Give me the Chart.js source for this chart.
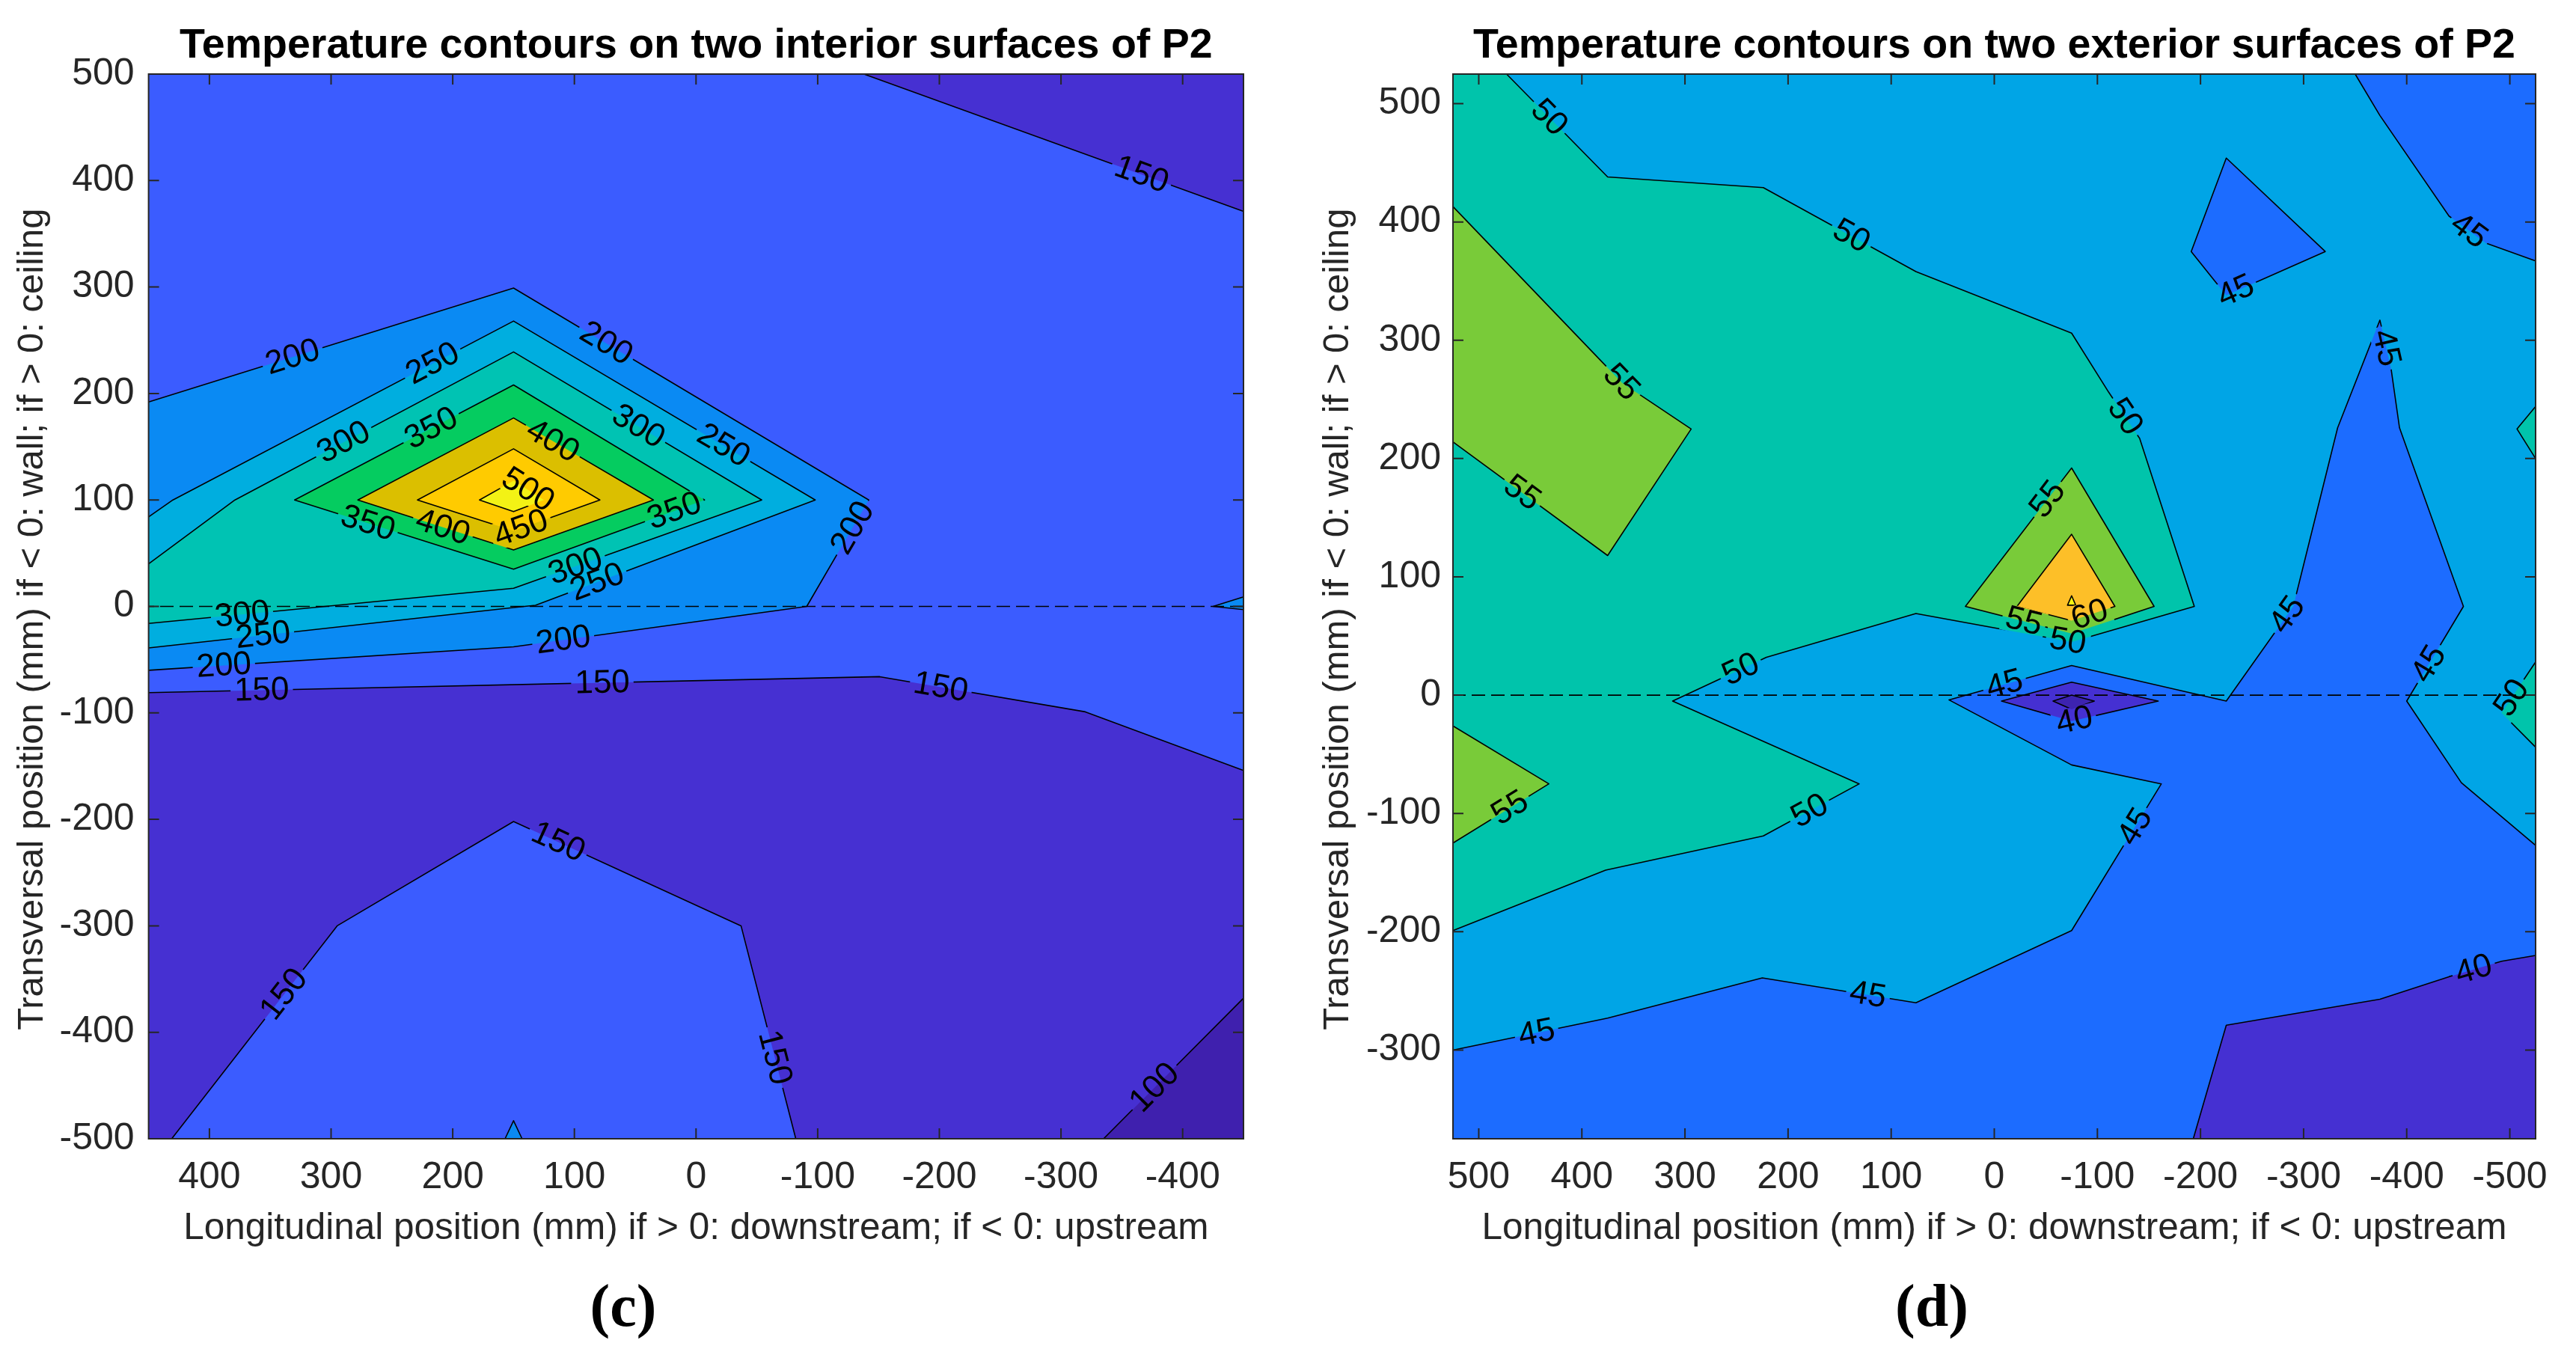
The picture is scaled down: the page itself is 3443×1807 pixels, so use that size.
<!DOCTYPE html>
<html>
<head>
<meta charset="utf-8">
<script src="https://cdn.jsdelivr.net/npm/chart.js@4.4.1/dist/chart.umd.min.js"></script>
<style>
  body { margin: 0; background: #fff; width: 3443px; height: 1807px; position: relative; overflow: hidden; }
  canvas { position: absolute; top: 0; }
  .tag { position: absolute; font: bold 80px "Liberation Serif", "Times New Roman", serif; line-height: 1; color: #000; transform: translate(-50%, -50%); }
</style>
</head>
<body>
<canvas id="interior" width="1720" height="1700" style="left:0"></canvas>
<canvas id="exterior" width="1723" height="1700" style="left:1720px"></canvas>
<div class="tag" style="left:833px; top:1745px">(c)</div>
<div class="tag" style="left:2582px; top:1745px">(d)</div>
<script>
// ---- axes ----
const intXTicks = [-400, -300, -200, -100, 0, 100, 200, 300, 400];
const intYTicks = [-500, -400, -300, -200, -100, 0, 100, 200, 300, 400, 500];
const extXTicks = [-500, -400, -300, -200, -100, 0, 100, 200, 300, 400, 500];
const extYTicks = [-300, -200, -100, 0, 100, 200, 300, 400, 500];
const intXRange = [-450, 450];
const intYRange = [-500, 500];
const extXRange = [-525, 525];
const extYRange = [-375, 525];

// ---- interior surfaces: contour regions (mm, mm) ----
const intBelow100 = [[-335, -500], [-450, -368], [-450, -500]];
const intAbove150Top = [[450, 500], [-138, 500], [-450, 371], [-450, -154], [-320, -99], [-151, -66], [450, -81]];
const intAbove150Arch = [[431, -500], [295, -300], [150, -202], [-37, -300], [-82, -500]];
const intAbove200Top = [[450, 192], [150, 299], [-142, 100], [-91, 0], [150, -38], [450, -60]];
const intAbove200Foot = [[157, -500], [150, -483], [143, -500]];
const intAbove200Edge = [[-450, 9], [-425, 0], [-450, -3]];
const intAbove250 = [[450, 84], [430, 100], [150, 268], [-98, 100], [132, 1], [150, -1], [450, -39]];
const intAbove300 = [[450, 40], [379, 100], [150, 239], [-54, 100], [150, 17], [450, -16]];
const intAbove350 = [[330, 100], [150, 208], [-7, 100], [150, 35]];
const intAbove400 = [[278, 100], [150, 177], [35, 100], [150, 53]];
const intAbove450 = [[229, 100], [150, 148], [79, 100], [150, 71]];
const intAbove500 = [[178, 100], [150, 118], [125, 100], [150, 89]];

const intLabels = [
  [331, 232, '200'], [216, 227, '250'], [290, 155, '300'], [218, 168, '350'], [119, 153, '400'],
  [139, 108, '500'], [75, 245, '200'], [48, 168, '300'], [270, 77, '350'], [209, 71, '400'],
  [145, 77, '450'], [17, 87, '350'], [98, 34, '300'], [80, 19, '250'], [-366, 405, '150'],
  [-23, 152, '250'], [-130, 73, '200'], [373, -10, '300'], [356, -26, '250'], [388, -57, '200'],
  [357, -79, '150'], [109, -33, '200'], [77, -72, '150'], [114, -223, '150'], [338, -365, '150'],
  [-201, -77, '150'], [-64, -424, '150'], [-377, -452, '100']
];

// ---- exterior surfaces ----
const extAbove40 = [[525, 525], [-525, 525], [-525, -220], [-492, -225], [-441, -238], [-374, -257], [-225, -279], [-193, -375], [525, -375]];
const extAbove45 = [[525, -300], [375, -273], [225, -239], [76, -260], [-75, -199], [-162, -75], [-75, -59], [44, -4],
  [-75, 25], [-225, -5], [-290, 75], [-333, 226], [-374, 317], [-385, 275], [-393, 226], [-455, 75], [-400, -5],
  [-453, -74], [-525, -127], [-525, 367], [-477, 382], [-441, 405], [-374, 490], [-350, 525], [525, 525]];
const extAbove50Main = [[473, 525], [375, 438], [224, 429], [76, 358], [-75, 306], [-111, 256], [-141, 217], [-194, 75],
  [-75, 45], [76, 69], [221, 32], [312, -5], [131, -75], [224, -119], [377, -148], [525, -199], [525, 525]];
const extAbove50EdgeHigh = [[-525, 244], [-507, 225], [-525, 200]];
const extAbove50EdgeLow = [[-525, 28], [-492, -15], [-525, -44]];
const extAbove55Left = [[525, 413], [361, 264], [294, 225], [375, 118], [525, 214]];
const extAbove55Low = [[525, -26], [432, -75], [525, -125]];
const extAbove55Peak = [[-75, 192], [28, 75], [-75, 52], [-155, 75]];
const extAbove60 = [[-75, 136], [-22, 75], [-75, 63], [-117, 75]];
const extAbove65 = [[-71, 76], [-75, 84], [-79, 76]];
const extBelow45Island = [[-225, 454], [-321, 375], [-225, 338], [-191, 375]];
const extBelow40Dip = [[-7, -5], [-75, 11], [-159, -5], [-75, -22]];
const extBelow35Dip = [[-57, -5], [-75, 0], [-97, -5], [-75, -12]];

const extLabels = [
  [432, 488, '50'], [138, 389, '50'], [361, 265, '55'], [458, 171, '55'], [-455, 386, '45'],
  [-236, 338, '45'], [-378, 293, '45'], [-128, 236, '50'], [-51, 166, '55'], [246, 22, '50'],
  [470, -95, '55'], [179, -98, '50'], [444, -285, '45'], [123, -256, '45'], [-28, 60, '55'],
  [-92, 69, '60'], [-70, 40, '50'], [-10, 9, '45'], [-80, -30, '40'], [-284, 68, '45'],
  [-138, -112, '45'], [-422, 26, '45'], [-496, 1, '50'], [-465, -232, '40']
];

const FONT = '"Liberation Sans", Arial, Helvetica, sans-serif';
Chart.defaults.font.family = FONT;
const xTitle = 'Longitudinal position (mm) if > 0: downstream; if < 0: upstream';
// trailing en space + thin space nudge the rotated label a little down the axis, as in the original
const yTitle = 'Transversal position (mm) if < 0: wall; if > 0: ceiling\u2002\u2009';

function contourPlugin(labels) {
  return {
    id: 'contourLines',
    afterDatasetsDraw(chart) {
      const ctx = chart.ctx, a = chart.chartArea;
      const xs = chart.scales.x, ys = chart.scales.y;
      const near = (u, v) => Math.abs(u - v) < 1.5;
      const onEdge = (p, q) =>
        (near(p.x, a.left) && near(q.x, a.left)) || (near(p.x, a.right) && near(q.x, a.right)) ||
        (near(p.y, a.top) && near(q.y, a.top)) || (near(p.y, a.bottom) && near(q.y, a.bottom));
      const off = document.createElement('canvas');
      off.width = chart.canvas.width; off.height = chart.canvas.height;
      const o = off.getContext('2d');
      o.strokeStyle = '#000'; o.lineWidth = 1.6; o.lineJoin = 'round'; o.lineCap = 'round';
      const segs = [];
      chart.data.datasets.forEach((ds, i) => {
        if (!ds.contour) return;
        const pts = chart.getDatasetMeta(i).data;
        const n = pts.length;
        o.beginPath();
        o.moveTo(pts[0].x, pts[0].y);
        for (let k = 1; k <= n; k++) {
          const p = pts[k - 1], q = pts[k % n];
          if (onEdge(p, q)) { o.moveTo(q.x, q.y); continue; }
          o.lineTo(q.x, q.y);
          segs.push([p.x, p.y, q.x, q.y]);
        }
        o.stroke();
      });
      ctx.save();
      ctx.font = '44px ' + FONT;
      const labs = labels.map(([lx, ly, txt]) => {
        const px = xs.getPixelForValue(lx), py = ys.getPixelForValue(ly);
        let best = null, bd = Infinity;
        segs.forEach(s => {
          const dx = s[2] - s[0], dy = s[3] - s[1];
          const len2 = dx * dx + dy * dy || 1;
          let t = ((px - s[0]) * dx + (py - s[1]) * dy) / len2;
          t = Math.max(0, Math.min(1, t));
          const cx = s[0] + t * dx, cy = s[1] + t * dy;
          const d = Math.hypot(px - cx, py - cy);
          if (d < bd) { bd = d; best = { x: cx, y: cy, ang: Math.atan2(dy, dx) }; }
        });
        let ang = best.ang;
        if (ang > Math.PI / 2) ang -= Math.PI;
        if (ang < -Math.PI / 2) ang += Math.PI;
        return { x: best.x, y: best.y, ang, txt, w: ctx.measureText(txt).width };
      });
      // break the lines where the labels sit
      o.globalCompositeOperation = 'destination-out';
      labs.forEach(l => {
        o.save(); o.translate(l.x, l.y); o.rotate(l.ang);
        o.fillRect(-l.w / 2 - 5, -18, l.w + 10, 36);
        o.restore();
      });
      ctx.beginPath(); ctx.rect(a.left, a.top, a.width, a.height); ctx.clip();
      ctx.drawImage(off, 0, 0);
      ctx.fillStyle = '#000'; ctx.textAlign = 'center'; ctx.textBaseline = 'middle';
      labs.forEach(l => {
        ctx.save(); ctx.translate(l.x, l.y); ctx.rotate(l.ang);
        ctx.fillText(l.txt, 0, 1);
        ctx.restore();
      });
      ctx.restore();
    },
    afterDraw(chart) {
      // MATLAB style box with inward ticks on all four sides
      const ctx = chart.ctx, a = chart.chartArea, xs = chart.scales.x, ys = chart.scales.y;
      const TL = 14;
      ctx.save();
      ctx.strokeStyle = '#262626'; ctx.lineWidth = 2;
      ctx.beginPath();
      xs.ticks.forEach(t => {
        const p = xs.getPixelForValue(t.value);
        ctx.moveTo(p, a.bottom); ctx.lineTo(p, a.bottom - TL);
        ctx.moveTo(p, a.top); ctx.lineTo(p, a.top + TL);
      });
      ys.ticks.forEach(t => {
        const p = ys.getPixelForValue(t.value);
        ctx.moveTo(a.left, p); ctx.lineTo(a.left + TL, p);
        ctx.moveTo(a.right, p); ctx.lineTo(a.right - TL, p);
      });
      ctx.stroke();
      ctx.strokeRect(a.left, a.top, a.width, a.height);
      ctx.restore();
    }
  };
}

function makePanel(id, cfg) {
  const n = cfg.layers.length;
  const datasets = cfg.layers.map((L, i) => ({
    data: L.pts.map(p => ({ x: p[0], y: p[1] })),
    showLine: true,
    fill: 'shape',
    backgroundColor: L.color,
    borderWidth: 0,
    pointRadius: 0,
    order: n + 2 - i,
    contour: L.line !== false
  }));
  datasets.push({
    data: [{ x: cfg.xRange[0], y: 0 }, { x: cfg.xRange[1], y: 0 }],
    showLine: true, fill: false, borderColor: '#000', borderWidth: 1.6,
    borderDash: [18, 8], pointRadius: 0, order: 0
  });
  return new Chart(document.getElementById(id), {
    type: 'scatter',
    data: { datasets },
    options: {
      responsive: false,
      animation: false,
      devicePixelRatio: 1,
      layout: { padding: { left: 0, right: cfg.padRight, top: 0, bottom: 0 } },
      plugins: {
        legend: { display: false },
        tooltip: { enabled: false },
        title: {
          display: true, text: cfg.title, fullSize: false, color: '#000',
          font: { size: 55.5, weight: 'bold', lineHeight: 1.2 },
          padding: { top: 28, bottom: 4.4 }
        }
      },
      scales: {
        x: {
          type: 'linear', reverse: true, min: cfg.xRange[0], max: cfg.xRange[1],
          grid: { display: false, drawTicks: false }, border: { display: false },
          afterBuildTicks: s => { s.ticks = cfg.xTicks.map(v => ({ value: v })); },
          afterFit: s => { s.height = 178; },
          ticks: { color: '#262626', font: { size: 50 }, padding: 22, maxRotation: 0, autoSkip: false, callback: v => String(v) },
          title: { display: true, text: xTitle, color: '#262626', font: { size: 49.5, lineHeight: 1.2 }, padding: { top: 0, bottom: 28 } }
        },
        y: {
          type: 'linear', min: cfg.yRange[0], max: cfg.yRange[1],
          grid: { display: false, drawTicks: false }, border: { display: false },
          afterBuildTicks: s => { s.ticks = cfg.yTicks.map(v => ({ value: v })); },
          afterFit: s => { s.width = cfg.yAxisWidth; },
          ticks: { color: '#262626', font: { size: 50 }, padding: cfg.yTickPad, autoSkip: false, callback: v => String(v) },
          title: { display: true, text: yTitle, color: '#262626', font: { size: 49, lineHeight: 1.2 }, padding: { top: cfg.yTitlePad, bottom: 0 } }
        }
      }
    },
    plugins: [contourPlugin(cfg.labels)]
  });
}

const intColors = { low: '#3f20ae', c100: '#4630d2', c150: '#3b5cff', c200: '#0a8af3', c250: '#00aedf',
  c300: '#00c3b3', c350: '#05cc60', c400: '#dbbf00', c450: '#ffcb00', c500: '#f3f215' };
const extColors = { low: '#3d23b0', c35: '#4530d2', c40: '#1c6cff', c45: '#00a5e6', c50: '#00c4ab',
  c55: '#79cb39', c60: '#fdbf28', c65: '#f5f512' };

makePanel('interior', {
  title: 'Temperature contours on two interior surfaces of P2',
  xRange: intXRange, yRange: intYRange, xTicks: intXTicks, yTicks: intYTicks,
  yAxisWidth: 198.6, padRight: 58, yTickPad: 19, yTitlePad: 14,
  labels: intLabels,
  layers: [
    { pts: [[450, -500], [-450, -500], [-450, 500], [450, 500]], color: intColors.c100, line: false },
    { pts: intBelow100, color: intColors.low },
    { pts: intAbove150Top, color: intColors.c150 },
    { pts: intAbove150Arch, color: intColors.c150 },
    { pts: intAbove200Top, color: intColors.c200 },
    { pts: intAbove200Foot, color: intColors.c200 },
    { pts: intAbove200Edge, color: intColors.c200 },
    { pts: intAbove250, color: intColors.c250 },
    { pts: intAbove300, color: intColors.c300 },
    { pts: intAbove350, color: intColors.c350 },
    { pts: intAbove400, color: intColors.c400 },
    { pts: intAbove450, color: intColors.c450 },
    { pts: intAbove500, color: intColors.c500 }
  ]
});

makePanel('exterior', {
  title: 'Temperature contours on two exterior surfaces of P2',
  xRange: extXRange, yRange: extYRange, xTicks: extXTicks, yTicks: extYTicks,
  yAxisWidth: 222, padRight: 54, yTickPad: 16, yTitlePad: 39,
  labels: extLabels,
  layers: [
    { pts: [[525, -375], [-525, -375], [-525, 525], [525, 525]], color: extColors.c35, line: false },
    { pts: extAbove40, color: extColors.c40 },
    { pts: extAbove45, color: extColors.c45 },
    { pts: extAbove50Main, color: extColors.c50 },
    { pts: extAbove50EdgeHigh, color: extColors.c50 },
    { pts: extAbove50EdgeLow, color: extColors.c50 },
    { pts: extAbove55Left, color: extColors.c55 },
    { pts: extAbove55Low, color: extColors.c55 },
    { pts: extAbove55Peak, color: extColors.c55 },
    { pts: extAbove60, color: extColors.c60 },
    { pts: extAbove65, color: extColors.c65 },
    { pts: extBelow45Island, color: extColors.c40 },
    { pts: extBelow40Dip, color: extColors.c35 },
    { pts: extBelow35Dip, color: extColors.low }
  ]
});
</script>
</body>
</html>
